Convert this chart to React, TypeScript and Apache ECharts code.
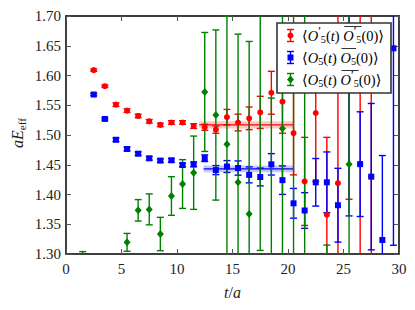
import React, { useEffect, useRef } from "react";
import * as echarts from "echarts";

// ---------- data ----------
const redT = [2.5, 3.5, 4.5, 5.5, 6.5, 7.5, 8.5, 9.5, 10.5, 11.5, 12.5, 13.5, 14.5, 15.5, 16.5, 17.5, 18.5, 19.5, 20.5, 21.5, 22.5, 23.5, 24.5, 25.5, 26.5, 27.5];
const redVal = [1.609, 1.582, 1.551, 1.541, 1.532, 1.523, 1.517, 1.521, 1.521, 1.515, 1.513, 1.509, 1.530, 1.521, 1.528, 1.538, 1.571, 1.556, 1.503, 1.422, 1.537, 1.366, 1.419, 1.75, 1.451, 1.43];
const redErr = [0.002, 0.002, 0.003, 0.003, 0.003, 0.003, 0.003, 0.003, 0.003, 0.004, 0.005, 0.006, 0.013, 0.014, 0.019, 0.027, 0.036, 0.053, 0.07, 0.074, 0.115, 0.13, 0.35, 0.358, 0.4, 0.4];

const blueT = [2.5, 3.5, 4.5, 5.5, 6.5, 7.5, 8.5, 9.5, 10.5, 11.5, 12.5, 13.5, 14.5, 15.5, 16.5, 17.5, 18.5, 19.5, 20.5, 21.5, 22.5, 23.5, 24.5, 25.5, 26.5, 27.5, 28.5, 29.5];
const blueVal = [1.568, 1.527, 1.492, 1.4765, 1.4686, 1.4608, 1.457, 1.4575, 1.4496, 1.4507, 1.461, 1.441, 1.447, 1.4445, 1.433, 1.4294, 1.4507, 1.4241, 1.3852, 1.3731, 1.4205, 1.4205, 1.382, 1.75, 1.451, 1.43, 1.3235, 1.6457];
const blueErr = [0.002, 0.002, 0.003, 0.003, 0.003, 0.003, 0.003, 0.003, 0.003, 0.004, 0.0056, 0.0076, 0.01, 0.012, 0.0134, 0.015, 0.018, 0.024, 0.025, 0.03, 0.04, 0.051, 0.062, 0.386, 0.088, 0.123, 0.142, 0.331];

const greenT = [1.5, 5.5, 6.5, 7.5, 8.5, 9.5, 10.5, 11.5, 12.5, 13.5, 14.5, 15.5, 16.5, 17.5, 18.5, 19.5, 20.5, 21.5, 23.5, 25.5];
const greenVal = [1.27, 1.3196, 1.3734, 1.375, 1.3336, 1.3975, 1.4176, 1.4366, 1.5723, 1.5336, 1.4844, 1.4205, 1.3672, 1.74, 1.25, 1.511, 1.76, 1.24, 1.2, 1.4508];
const greenErr = [0.034, 0.015, 0.018, 0.026, 0.028, 0.0325, 0.041, 0.0616, 0.1, 0.143, 0.2156, 0.249, 0.29, 0.434, 0.312, 0.25, 0.5, 0.5, 0.115, 0.3];

// fit bands: [tStart, tEnd, centre, halfWidth]
const redFit = [12.0, 20.5, 1.517, 0.006];
const blueFit = [12.4, 20.5, 1.443, 0.0056];

const xMin = 0, xMax = 30, xStep = 5;
const yMin = 1.3, yMax = 1.7, yStep = 0.05;

const RED = "#ff0000";
const BLUE = "#0000ff";
const GREEN = "#008000";
const FAM = "'Liberation Serif', 'DejaVu Serif', serif";

type Piece = { s: string; it?: boolean; sc?: number; dy?: number; ol?: "s" | "e" };

const PRIME: Piece = { s: "\u2032", sc: 0.85, dy: -0.28 };
const sub5 = (ol?: "s" | "e"): Piece => ({ s: "5", sc: 0.7, dy: 0.3, ol });

const legendRows: { color: string; symbol: string; pieces: Piece[] }[] = [
  {
    color: RED, symbol: "circle",
    pieces: [{ s: "\u27E8" }, { s: "O", it: true }, PRIME, sub5(), { s: "(" }, { s: "t", it: true }, { s: ")" }, { s: " " },
      { s: "O", it: true, ol: "s" }, PRIME, sub5("e"), { s: "(0)\u27E9" }],
  },
  {
    color: BLUE, symbol: "rect",
    pieces: [{ s: "\u27E8" }, { s: "O", it: true }, sub5(), { s: "(" }, { s: "t", it: true }, { s: ")" }, { s: " " },
      { s: "O", it: true, ol: "s" }, sub5("e"), { s: "(0)\u27E9" }],
  },
  {
    color: GREEN, symbol: "diamond",
    pieces: [{ s: "\u27E8" }, { s: "O", it: true }, sub5(), { s: "(" }, { s: "t", it: true }, { s: ")" }, { s: " " },
      { s: "O", it: true, ol: "s" }, PRIME, sub5("e"), { s: "(0)\u27E9" }],
  },
];

// ---------- helpers ----------
let mctx: CanvasRenderingContext2D | null = null;
function measure(text: string, font: string) {
  if (!mctx) mctx = document.createElement("canvas").getContext("2d");
  mctx!.font = font;
  return mctx!.measureText(text).width;
}
const fontOf = (p: Piece, size: number) => `${p.it ? "italic " : ""}${(size * (p.sc || 1)).toFixed(2)}px ${FAM}`;

function mathWidth(pieces: Piece[], size: number) {
  return pieces.reduce((acc, p) => acc + measure(p.s, fontOf(p, size)), 0);
}

function mathRow(pieces: Piece[], x0: number, yMid: number, size: number, color: string) {
  const els: any[] = [];
  let x = x0;
  let olStart = 0;
  for (const p of pieces) {
    const font = fontOf(p, size);
    const w = measure(p.s, font);
    if (p.ol === "s") olStart = x;
    els.push({
      type: "text", x, y: yMid + (p.dy || 0) * size, silent: true,
      style: { text: p.s, font, fill: color, textVerticalAlign: "middle", textAlign: "left" },
    });
    x += w;
    if (p.ol === "e") {
      els.push({
        type: "line", silent: true,
        shape: { x1: olStart + 1, y1: yMid - 0.62 * size, x2: x, y2: yMid - 0.62 * size },
        style: { stroke: color, lineWidth: 0.8 },
      });
    }
  }
  return els;
}

function errRender(color: string) {
  return (params: any, api: any) => {
    const t = api.value(0), v = api.value(1), e = api.value(2);
    const x = api.coord([t, v])[0];
    const top = api.coord([t, v + e])[1];
    const bot = api.coord([t, v - e])[1];
    const cs = params.coordSys;
    const y0 = cs.y, y1 = cs.y + cs.height;
    const ty = Math.max(top, y0), by = Math.min(bot, y1);
    if (ty > by) return null;
    const style = { stroke: color, lineWidth: 1.4 };
    const ch: any[] = [{ type: "line", shape: { x1: x, y1: ty, x2: x, y2: by }, style }];
    const cw = 3.5;
    if (top >= y0 - 0.5 && top <= y1) ch.push({ type: "line", shape: { x1: x - cw, y1: top, x2: x + cw, y2: top }, style });
    if (bot >= y0 && bot <= y1 + 0.5) ch.push({ type: "line", shape: { x1: x - cw, y1: bot, x2: x + cw, y2: bot }, style });
    return { type: "group", children: ch };
  };
}

function bandRender(color: string, fill: string) {
  return (params: any, api: any) => {
    const t0 = api.value(0), t1 = api.value(1), c = api.value(2), e = api.value(3);
    const a = api.coord([t0, c + e]);
    const b = api.coord([t1, c - e]);
    const m = api.coord([t0, c]);
    return {
      type: "group",
      children: [
        { type: "rect", shape: { x: a[0], y: a[1], width: b[0] - a[0], height: b[1] - a[1] }, style: { fill } },
        { type: "line", shape: { x1: a[0], y1: m[1], x2: b[0], y2: m[1] }, style: { stroke: color, lineWidth: 1.3 } },
      ],
    };
  };
}

function zip3(t: number[], v: number[], e: number[]) {
  return t.map((ti, i) => [ti, v[i], e[i]]);
}

export default function App() {
  const ref = useRef<HTMLDivElement>(null);
  useEffect(() => {
    if (!ref.current) return;
    const chart = echarts.init(ref.current, undefined, { renderer: "svg" });

    const tickStyle = { inside: true, length: 5, lineStyle: { color: "#555", width: 1 } };
    const lineStyle = { show: true, onZero: false, lineStyle: { color: "#000", width: 1.5 } };
    const xBase = { type: "value", min: xMin, max: xMax, interval: xStep, splitLine: { show: false }, axisLine: lineStyle, axisTick: tickStyle };
    const yBase = { type: "value", min: yMin, max: yMax, interval: yStep, splitLine: { show: false }, axisLine: lineStyle, axisTick: tickStyle };

    // legend graphics
    const lg: any[] = [];
    const lx = 277, ly = 23, lw = 114, lh = 70;
    lg.push({ type: "rect", shape: { x: lx, y: ly, width: lw, height: lh }, style: { fill: "#fff", stroke: "#333", lineWidth: 1.6 }, z: 100 });
    const rowY = [35.5, 57.5, 79.5];
    const baseW = mathWidth(legendRows[0].pieces, 14);
    const lsize = Math.min(16, Math.max(11, (14 * 82) / baseW));
    legendRows.forEach((r, i) => {
      const cy = rowY[i];
      const ix = 290.5;
      const st = { stroke: r.color, lineWidth: 1.4 };
      lg.push({ type: "line", shape: { x1: ix, y1: cy - 6, x2: ix, y2: cy + 6 }, style: st, z: 101 });
      lg.push({ type: "line", shape: { x1: ix - 3.5, y1: cy - 6, x2: ix + 3.5, y2: cy - 6 }, style: st, z: 101 });
      lg.push({ type: "line", shape: { x1: ix - 3.5, y1: cy + 6, x2: ix + 3.5, y2: cy + 6 }, style: st, z: 101 });
      if (r.symbol === "circle") lg.push({ type: "circle", shape: { cx: ix, cy, r: 3 }, style: { fill: r.color }, z: 102 });
      else if (r.symbol === "rect") lg.push({ type: "rect", shape: { x: ix - 3, y: cy - 3, width: 6, height: 6 }, style: { fill: r.color }, z: 102 });
      else lg.push({ type: "polygon", shape: { points: [[ix, cy - 4], [ix + 3.5, cy], [ix, cy + 4], [ix - 3.5, cy]] }, style: { fill: r.color }, z: 102 });
      const els = mathRow(r.pieces, 302, cy, lsize, "#000");
      els.forEach((e) => { e.z = 103; lg.push(e); });
    });

    // axis titles
    const xPieces: Piece[] = [{ s: "t", it: true }, { s: "/" }, { s: "a", it: true }];
    const xw = mathWidth(xPieces, 16);
    const xTitle = mathRow(xPieces, 232.5 - xw / 2, 292, 16, "#222");
    const yPieces: Piece[] = [{ s: "aE", it: true }, { s: "eff", sc: 0.7, dy: 0.3 }];
    const yw = mathWidth(yPieces, 16);
    const yTitle = { type: "group", x: 17, y: 133, rotation: Math.PI / 2, children: mathRow(yPieces, -yw / 2, 0, 16, "#222") };

    const option: any = {
      animation: false,
      backgroundColor: "#fff",
      textStyle: { fontFamily: FAM },
      grid: { left: 66, right: 16, top: 16, bottom: 56, containLabel: false },
      xAxis: [
        { ...xBase, position: "bottom", axisLabel: { margin: 7, fontFamily: FAM, fontSize: 15, color: "#222" } },
        { ...xBase, position: "top", axisLabel: { show: false } },
      ],
      yAxis: [
        { ...yBase, position: "left", axisLabel: { margin: 5, fontFamily: FAM, fontSize: 15, color: "#222", showMinLabel: true, showMaxLabel: true, formatter: (v: number) => v.toFixed(2) } },
        { ...yBase, position: "right", axisLabel: { show: false } },
      ],
      graphic: [...xTitle, yTitle, ...lg],
      series: [
        { type: "custom", name: "redFit", renderItem: bandRender(RED, "rgba(255,0,0,0.22)"), data: [redFit], clip: true, z: 1 },
        { type: "custom", name: "blueFit", renderItem: bandRender(BLUE, "rgba(0,0,255,0.22)"), data: [blueFit], clip: true, z: 1 },
        { type: "custom", name: "redErr", renderItem: errRender(RED), data: zip3(redT, redVal, redErr), z: 2 },
        { type: "scatter", name: "red", data: redT.map((t, i) => [t, redVal[i]]), symbol: "circle", symbolSize: 6, itemStyle: { color: RED, opacity: 1 }, clip: true, z: 2 },
        { type: "custom", name: "blueErr", renderItem: errRender(BLUE), data: zip3(blueT, blueVal, blueErr), z: 2 },
        { type: "scatter", name: "blue", data: blueT.map((t, i) => [t, blueVal[i]]), symbol: "rect", symbolSize: 6, itemStyle: { color: BLUE, opacity: 1 }, clip: true, z: 2 },
        { type: "custom", name: "greenErr", renderItem: errRender(GREEN), data: zip3(greenT, greenVal, greenErr), z: 2 },
        { type: "scatter", name: "green", data: greenT.map((t, i) => [t, greenVal[i]]), symbol: "diamond", symbolSize: [7, 8], itemStyle: { color: GREEN, opacity: 1 }, clip: true, z: 2 },
      ],
    };
    chart.setOption(option);
    return () => chart.dispose();
  }, []);
  return <div ref={ref} style={{ position: "fixed", left: 0, top: 0, width: 415, height: 310, background: "#fff" }} />;
}
